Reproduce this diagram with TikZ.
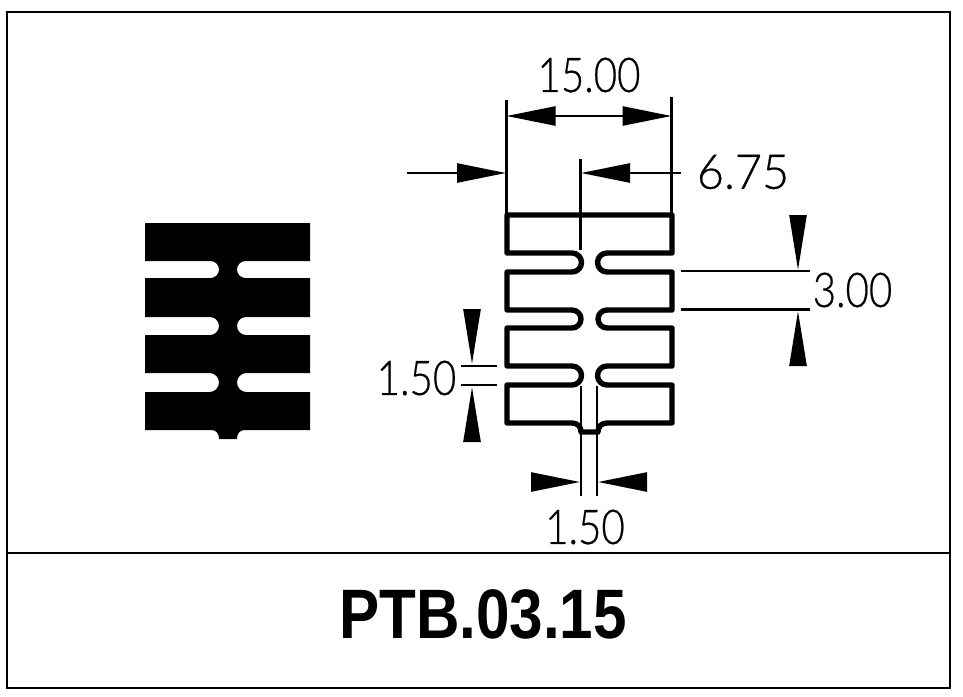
\documentclass[tikz,border=0pt]{standalone}
\usepackage{fontspec}
\setmainfont{Liberation Sans}
\newfontfamily\dimfont[FakeBold=0.5]{Lato Light}
\usetikzlibrary{arrows.meta}
\tikzset{
  x=1pt,y=-1pt,
  framestroke/.style={line width=2.6pt,draw=black},
  outline/.style={line width=5.4pt,draw=black,line join=round,line cap=round},
  dimline/.style={line width=2.5pt,draw=black},
  headv/.style={-{Triangle[length=55pt,width=17pt]}},
  headh/.style={-{Triangle[length=49pt,width=19pt]}},
  dimtext/.style={inner sep=0pt,font=\dimfont\fontsize{48}{48}\selectfont,xscale=0.84},
  titletext/.style={inner sep=0pt,font=\bfseries\fontsize{70}{70}\selectfont,xscale=0.86},
}
\begin{document}
\begin{tikzpicture}
\useasboundingbox (0,0) rectangle (963,696);
\fill[white] (0,0) rectangle (963,696);
% frame
\draw[framestroke] (7,12) rectangle (950,688);
\draw[framestroke] (7,553) -- (950,553);
\node[titletext] (title) at (483,614.5) {PTB.03.15};
% solid profile
\fill[black] (145,223) -- (310,223) -- (310,261) -- (245.5,261)
  arc[start angle=-90,end angle=-270,radius=8.5] -- (310,278) -- (310,317) -- (246,317)
  arc[start angle=-90,end angle=-270,radius=9] -- (310,335) -- (310,373) -- (246.5,373)
  arc[start angle=-90,end angle=-270,radius=9.5] -- (310,392) -- (310,430) -- (245,430)
  .. controls (240,430) and (237,433) .. (237,439) -- (219,439)
  .. controls (219,433) and (216,430) .. (211,430) -- (145,430) -- (145,392) -- (209.5,392)
  arc[start angle=90,end angle=-90,radius=9.5] -- (145,373) -- (145,335) -- (210,335)
  arc[start angle=90,end angle=-90,radius=9] -- (145,317) -- (145,278) -- (210.5,278)
  arc[start angle=90,end angle=-90,radius=8.5] -- (145,261) -- cycle;
% outlined profile
\draw[outline] (507,215) -- (672,215) -- (672,253) -- (607,253)
  arc[start angle=-90,end angle=-270,radius=9.5] -- (672,272) -- (672,310) -- (607,310)
  arc[start angle=-90,end angle=-270,radius=9] -- (672,328) -- (672,366) -- (607,366)
  arc[start angle=-90,end angle=-270,radius=9.5] -- (672,385) -- (672,423) -- (607,423)
  .. controls (601,423) and (598,427) .. (598,432) -- (581,432)
  .. controls (581,427) and (578,423) .. (572,423) -- (507,423) -- (507,385) -- (572,385)
  arc[start angle=90,end angle=-90,radius=9.5] -- (507,366) -- (507,328) -- (572,328)
  arc[start angle=90,end angle=-90,radius=9] -- (507,310) -- (507,272) -- (572,272)
  arc[start angle=90,end angle=-90,radius=9.5] -- (507,253) -- cycle;
% named dimension points
\coordinate (wL) at (506.5,116);
\coordinate (wR) at (671.5,116);
\coordinate (oA) at (407,173);
\coordinate (oT) at (506,173);
\coordinate (oB) at (581,173);
\coordinate (oE) at (681,173);
% extension lines
\draw[dimline] (506.5,100) -- (506.5,215);
\draw[dimline] (671.5,97) -- (671.5,215);
\draw[dimline] (580.5,159) -- (580.5,250);
\draw[dimline] (681,271) -- (810,271);
\draw[dimline] (681,309.5) -- (810,309.5);
\draw[dimline] (461,366) -- (497,366);
\draw[dimline] (461,385) -- (497,385);
\draw[dimline] (581,386) -- (581,496);
\draw[dimline] (597,386) -- (597,496);
% dimension arrows
\draw[dimline,headh] (600,116) -- (wL);
\draw[dimline,headh] (580,116) -- (wR);
\draw[dimline,headh] (oA) -- (oT);
\draw[dimline,headh] (oE) -- (oB);
\draw[dimline,headv] (798,215) -- (798,270);
\draw[dimline,headv] (798,366) -- (798,311);
\draw[dimline,headv] (472,309) -- (472,364);
\draw[dimline,headv] (472,442) -- (472,387);
\draw[dimline,headh] (531,482) -- (580,482);
\draw[dimline,headh] (647,482) -- (598,482);
% labels
\node[dimtext] (w) at (589,75) {15.00};
\node[dimtext,xscale=1.16] (o) at (743,172) {6.75};
\node[dimtext] (h) at (852.5,290) {3.00};
\node[dimtext] (g) at (416.5,378) {1.50};
\node[dimtext] (n) at (585,527) {1.50};
\end{tikzpicture}
\end{document}
